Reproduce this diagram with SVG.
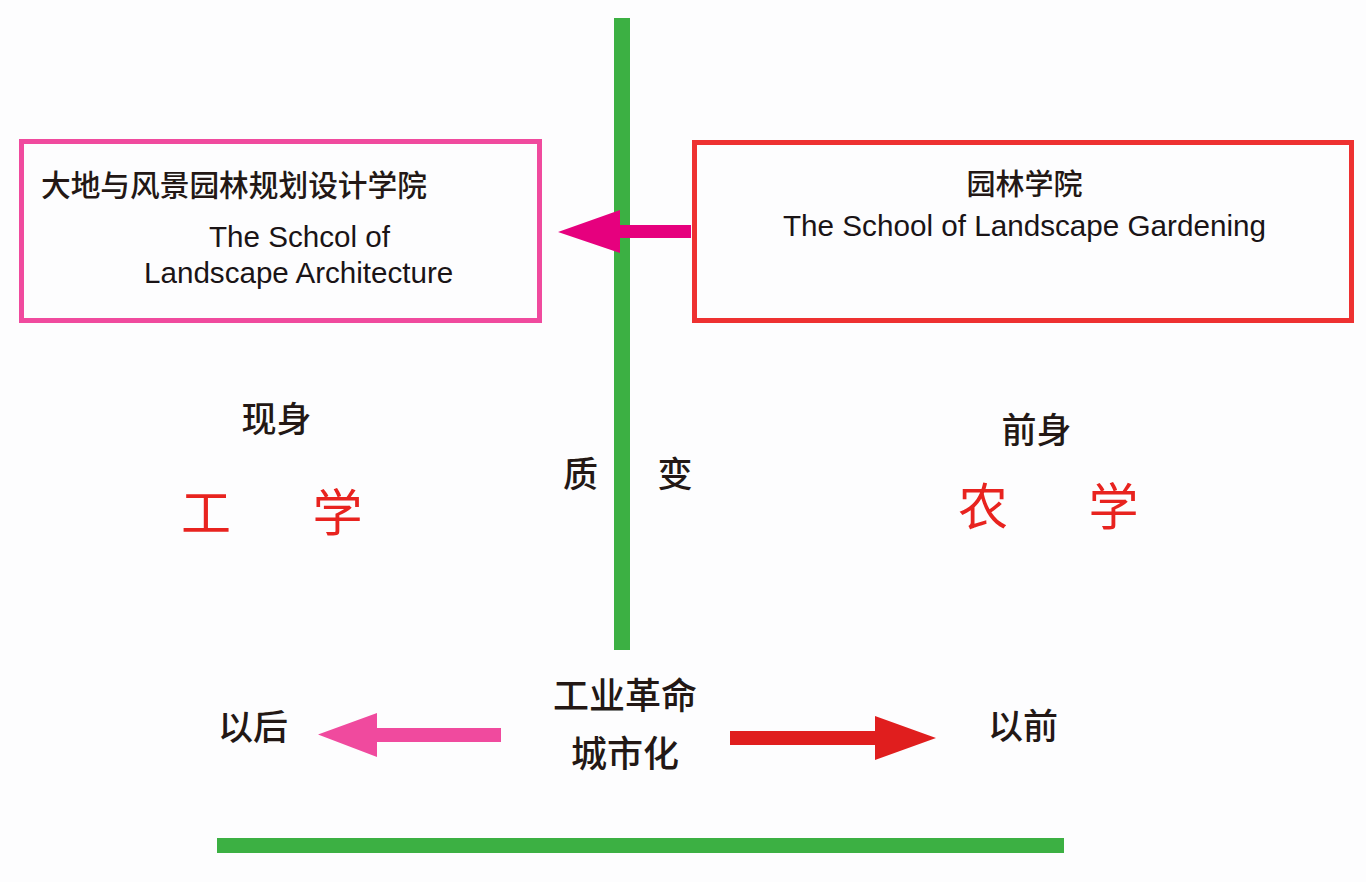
<svg xmlns="http://www.w3.org/2000/svg" width="1366" height="882" viewBox="0 0 1366 882">
<style>
.cjk{font-family:"Noto Sans CJK SC","Noto Sans CJK JP",sans-serif;fill:#231815;font-weight:500}
.en{font-family:"Liberation Sans",Arial,sans-serif;fill:#1a1416}
.red{fill:#e8231f;font-weight:400}
.mid{text-anchor:middle;dominant-baseline:central}
.green{fill:#3cb043}
</style>
<rect x="0" y="0" width="1366" height="882" fill="#fdfdfe"/>
<g id="axes">
<rect class="green" x="614" y="18" width="16" height="632"/>
<rect class="green" x="217" y="838" width="847" height="15"/>
</g>
<g id="node-new-school">
<rect x="21.5" y="141.5" width="518" height="179" fill="none" stroke="#f04a9e" stroke-width="5"/>
<text class="cjk" x="41" y="183" font-size="29.7" dominant-baseline="central">大地与风景园林规划设计学院</text>
<text class="en" x="209" y="247" font-size="29.6">The Schcol of</text>
<text class="en" x="144" y="283" font-size="29.6">Landscape Architecture</text>
</g>
<g id="node-old-school">
<rect x="694.5" y="142.5" width="657" height="178" fill="none" stroke="#ee3131" stroke-width="5"/>
<text class="cjk mid" x="1024.5" y="181.5" font-size="29">园林学院</text>
<text class="en" x="783" y="236" font-size="29.6" textLength="483" lengthAdjust="spacingAndGlyphs">The School of Landscape Gardening</text>
</g>
<g id="node-now">
<text class="cjk mid" x="276.5" y="416.5" font-size="35">现身</text>
<text class="cjk mid red" x="206" y="509" font-size="50">工</text>
<text class="cjk mid red" x="337.5" y="509" font-size="50">学</text>
</g>
<g id="node-before">
<text class="cjk mid" x="1036.5" y="427" font-size="35">前身</text>
<text class="cjk mid red" x="983" y="503" font-size="50">农</text>
<text class="cjk mid red" x="1113.5" y="503" font-size="50">学</text>
</g>
<g id="node-change">
<text class="cjk mid" x="580.5" y="471.5" font-size="35">质</text>
<text class="cjk mid" x="675" y="471.5" font-size="35">变</text>
</g>
<g id="node-revolution">
<text class="cjk mid" x="625" y="693" font-size="36">工业革命</text>
<text class="cjk mid" x="625" y="751" font-size="36">城市化</text>
</g>
<g id="node-after">
<text class="cjk mid" x="253" y="724" font-size="35">以后</text>
</g>
<g id="node-earlier">
<text class="cjk mid" x="1023" y="723" font-size="35">以前</text>
</g>
<g id="connectors">
<polygon fill="#e6007e" points="691,225 620,225 620,210 558,232 620,253 620,238 691,238"/>
<polygon fill="#f04a9e" points="501,728 377,728 377,713 318,734.5 377,757 377,742 501,742"/>
<polygon fill="#e01e1e" points="730,731 875,731 875,716 936,738 875,760 875,745 730,745"/>
</g>
</svg>
